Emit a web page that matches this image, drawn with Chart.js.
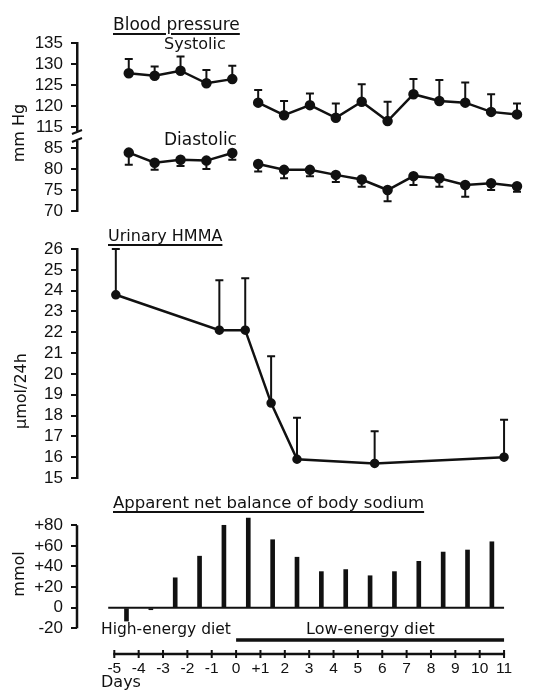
<!DOCTYPE html>
<html lang="en">
<head>
  <meta charset="UTF-8" />
  <title>Blood pressure, urinary HMMA and sodium balance</title>
  <script src="https://cdn.jsdelivr.net/npm/chart.js"></script>
  <style>
    html, body { margin: 0; padding: 0; background: #fff; }
    #page { position: relative; width: 540px; height: 696px; color: #111;
            font-family: "DejaVu Sans", sans-serif; }
    #page canvas { position: absolute; left: 0; top: 0; }
    .lbl { position: absolute; font-size: 16px; line-height: 1; white-space: nowrap; }
    .u { text-decoration: underline; text-decoration-thickness: 2px;
         text-underline-offset: 3px; text-decoration-skip-ink: auto; }
    .rot { position: absolute; font-size: 16px; line-height: 1; white-space: nowrap;
           transform: translate(-50%, -50%) rotate(-90deg); }
  </style>
</head>
<body>
<div id="page">
  <canvas id="bpChart" width="540" height="696"></canvas>
  <canvas id="hmmaChart" width="540" height="696"></canvas>
  <canvas id="naChart" width="540" height="696"></canvas>

  <div class="lbl u" style="left:113px; top:16px; font-size:17px;">Blood pressure</div>
  <div class="lbl" style="left:164px; top:36px;">Systolic</div>
  <div class="lbl" style="left:164px; top:131px; font-size:17px;">Diastolic</div>
  <div class="lbl u" style="left:108px; top:228px;">Urinary HMMA</div>
  <div class="lbl u" style="left:113px; top:495px; font-size:16.5px;">Apparent net balance of body sodium</div>
  <div class="lbl" style="left:101px; top:622px; font-size:15.5px;">High-energy diet</div>
  <div class="lbl" style="left:306px; top:621px;">Low-energy diet</div>
  <div class="lbl" style="left:101px; top:674px;">Days</div>

  <div class="rot" style="left:19px; top:133px;">mm Hg</div>
  <div class="rot" style="left:21px; top:391px;">µmol/24h</div>
  <div class="rot" style="left:19px; top:574px;">mmol</div>
</div>

<script>
  // ---- data ----
  const highDays = [-4, -3, -2, -1, 0];
  const lowDays = [1, 2, 3, 4, 5, 6, 7, 8, 9, 10, 11];

  const systolicHigh = [127.8, 127.2, 128.4, 125.4, 126.4];
  const systolicHighErr = [3.4, 2.2, 3.4, 3.2, 3.2];
  const systolicLow = [120.8, 117.8, 120.2, 117.2, 121.0, 116.4, 122.8, 121.2, 120.8, 118.6, 118.0];
  const systolicLowErr = [3.0, 3.4, 2.8, 3.4, 4.2, 4.6, 3.6, 5.0, 4.8, 4.2, 2.6];

  const diastolicHigh = [83.9, 81.5, 82.2, 82.0, 83.8];
  const diastolicHighErr = [2.9, 1.7, 1.5, 2.0, 1.6];
  const diastolicLow = [81.2, 79.8, 79.8, 78.6, 77.5, 75.0, 78.3, 77.8, 76.2, 76.6, 75.9];
  const diastolicLowErr = [1.8, 2.0, 1.5, 1.7, 1.7, 2.7, 2.1, 2.0, 2.8, 1.6, 1.3];

  const hmmaDays = [-4.5, -0.5, 0.5, 1.5, 2.5, 5.5, 10.5];
  const hmmaValues = [23.8, 22.1, 22.1, 18.6, 15.9, 15.7, 16.0];
  const hmmaErr = [2.2, 2.4, 2.5, 2.25, 2.0, 1.55, 1.8];

  const sodiumDays = [-4.5, -3.5, -2.5, -1.5, -0.5, 0.5, 1.5, 2.5, 3.5, 4.5, 5.5, 6.5, 7.5, 8.5, 9.5, 10.5];
  const sodiumBalance = [-13, -2, 29, 50, 80, 87, 66, 49, 35, 37, 31, 35, 45, 54, 56, 64];

  const sodiumTicks = [80, 60, 40, 20, 0, -20];
  const sodiumTickLabels = ['+80', '+60', '+40', '+20', '0', '-20'];
  const dayTicks = [-5, -4, -3, -2, -1, 0, 1, 2, 3, 4, 5, 6, 7, 8, 9, 10, 11];
  const dayLabels = ['-5', '-4', '-3', '-2', '-1', '0', '+1',
                     '2', '3', '4', '5', '6', '7', '8', '9', '10', '11'];

  const lowEnergyStart = 0, lowEnergyEnd = 11;
  const dietLineLevel = -31.5;
  const zeroLineStart = -5.25;

  // systolic part of the broken axis is shifted down by this much
  const breakShift = 25;

  // ---- helpers ----
  const INK = '#111';
  Chart.defaults.font.family = '"Liberation Sans", sans-serif';
  Chart.defaults.font.size = 17;
  Chart.defaults.color = INK;

  const pts = (xs, ys, shift = 0) => xs.map((x, i) => ({ x: x, y: ys[i] - shift }));

  function lineSet(data, errors, errDir) {
    return {
      data: data, errors: errors, errDir: errDir,
      borderColor: INK, backgroundColor: INK, borderWidth: 2.5,
      pointRadius: 4, pointBackgroundColor: INK, pointBorderColor: INK,
      tension: 0, clip: false
    };
  }

  const errorBars = {
    id: 'errorBars',
    afterDatasetsDraw(chart) {
      const ctx = chart.ctx, ys = chart.scales.y;
      chart.data.datasets.forEach((ds, i) => {
        if (!ds.errors) return;
        const meta = chart.getDatasetMeta(i);
        ctx.save();
        ctx.strokeStyle = INK;
        ctx.lineWidth = 2;
        meta.data.forEach((pt, j) => {
          const end = ys.getPixelForValue(ds.data[j].y + ds.errDir * ds.errors[j]);
          ctx.beginPath();
          ctx.moveTo(pt.x, pt.y);
          ctx.lineTo(pt.x, end);
          ctx.moveTo(pt.x - 4, end);
          ctx.lineTo(pt.x + 4, end);
          ctx.stroke();
        });
        ctx.restore();
      });
    }
  };

  const axisBreak = {
    id: 'axisBreak',
    afterDraw(chart) {
      const ctx = chart.ctx, ys = chart.scales.y, x0 = chart.chartArea.left;
      const top = ys.getPixelForValue(115 - breakShift) + 4;
      const bottom = ys.getPixelForValue(85) - 7;
      ctx.save();
      ctx.fillStyle = '#fff';
      ctx.fillRect(x0 - 3, top, 6, bottom - top);
      ctx.strokeStyle = INK;
      ctx.lineWidth = 2;
      ctx.beginPath();
      ctx.moveTo(x0 - 5, top + 3); ctx.lineTo(x0 + 5, top - 1);
      ctx.moveTo(x0 - 5, bottom + 1); ctx.lineTo(x0 + 5, bottom - 3);
      ctx.stroke();
      ctx.restore();
    }
  };

  const sodiumAxes = {
    id: 'sodiumAxes',
    afterDraw(chart) {
      const ctx = chart.ctx, xs = chart.scales.x, ys = chart.scales.y;
      const ax = chart.chartArea.left, ay = chart.chartArea.bottom;
      ctx.save();
      ctx.strokeStyle = INK;
      ctx.lineWidth = 2.5;
      ctx.beginPath();
      ctx.moveTo(ax, ys.getPixelForValue(sodiumTicks[0]));
      ctx.lineTo(ax, ys.getPixelForValue(sodiumTicks[sodiumTicks.length - 1]));
      ctx.moveTo(xs.getPixelForValue(dayTicks[0]) - 1, ay);
      ctx.lineTo(xs.getPixelForValue(dayTicks[dayTicks.length - 1]) + 1, ay);
      ctx.stroke();
      ctx.lineWidth = 2;
      ctx.beginPath();
      dayTicks.forEach(d => {
        const px = xs.getPixelForValue(d);
        ctx.moveTo(px, ay - 4);
        ctx.lineTo(px, ay + 4);
      });
      ctx.stroke();
      ctx.restore();
    }
  };

  const yTickGrid = { display: true, drawOnChartArea: false, drawTicks: true,
                      tickLength: 6, color: INK, lineWidth: 2 };
  const fixWidth = scale => { scale.width = 77; };
  const hiddenX = { type: 'linear', min: -6, max: 11, display: false };
  const base = {
    responsive: false, animation: false,
    plugins: { legend: { display: false }, tooltip: { enabled: false } }
  };

  // ---- blood pressure ----
  new Chart(document.getElementById('bpChart'), {
    type: 'line',
    data: {
      datasets: [
        lineSet(pts(highDays, systolicHigh, breakShift), systolicHighErr, 1),
        lineSet(pts(lowDays, systolicLow, breakShift), systolicLowErr, 1),
        lineSet(pts(highDays, diastolicHigh), diastolicHighErr, -1),
        lineSet(pts(lowDays, diastolicLow), diastolicLowErr, -1)
      ]
    },
    options: {
      ...base,
      layout: { padding: { left: 0, right: 23, top: 43, bottom: 485 } },
      scales: {
        x: hiddenX,
        y: {
          min: 70, max: 135 - breakShift, afterFit: fixWidth,
          grid: yTickGrid,
          border: { display: true, color: INK, width: 2.5 },
          ticks: { stepSize: 5, padding: 8, autoSkip: false,
                   callback: v => (v > 87.5 ? v + breakShift : v) }
        }
      }
    },
    plugins: [errorBars, axisBreak]
  });

  // ---- urinary HMMA ----
  new Chart(document.getElementById('hmmaChart'), {
    type: 'line',
    data: { datasets: [ { ...lineSet(pts(hmmaDays, hmmaValues), hmmaErr, 1), pointRadius: 3.5 } ] },
    options: {
      ...base,
      layout: { padding: { left: 0, right: 23, top: 249, bottom: 218 } },
      scales: {
        x: hiddenX,
        y: {
          min: 15, max: 26, afterFit: fixWidth,
          grid: yTickGrid,
          border: { display: true, color: INK, width: 2.5 },
          ticks: { stepSize: 1, padding: 8, autoSkip: false }
        }
      }
    },
    plugins: [errorBars]
  });

  // ---- sodium balance ----
  new Chart(document.getElementById('naChart'), {
    type: 'bar',
    data: {
      datasets: [
        {
          type: 'bar',
          data: pts(sodiumDays, sodiumBalance),
          backgroundColor: INK, barThickness: 4
        },
        {
          type: 'line',
          data: [{ x: zeroLineStart, y: 0 }, { x: dayTicks[dayTicks.length - 1], y: 0 }],
          borderColor: INK, borderWidth: 2, pointRadius: 0, clip: false
        },
        {
          type: 'line',
          data: [{ x: lowEnergyStart, y: dietLineLevel }, { x: lowEnergyEnd, y: dietLineLevel }],
          borderColor: INK, borderWidth: 3.5, pointRadius: 0, clip: false
        }
      ]
    },
    options: {
      ...base,
      layout: { padding: { left: 0, right: 23, top: 515, bottom: 12 } },
      scales: {
        x: {
          type: 'linear', min: -6, max: 11,
          grid: { display: false, drawTicks: false },
          border: { display: false },
          afterBuildTicks: s => { s.ticks = dayTicks.map(v => ({ value: v })); },
          afterFit: s => { s.height = 30; },
          ticks: { autoSkip: false, maxRotation: 0, padding: 5, font: { size: 15.5 },
                   callback: v => dayLabels[dayTicks.indexOf(v)] }
        },
        y: {
          min: -45, max: 90, afterFit: fixWidth,
          grid: yTickGrid,
          border: { display: false },
          afterBuildTicks: s => { s.ticks = sodiumTicks.map(v => ({ value: v })); },
          ticks: { padding: 8, autoSkip: false,
                   callback: v => sodiumTickLabels[sodiumTicks.indexOf(v)] }
        }
      }
    },
    plugins: [sodiumAxes]
  });
</script>
</body>
</html>
